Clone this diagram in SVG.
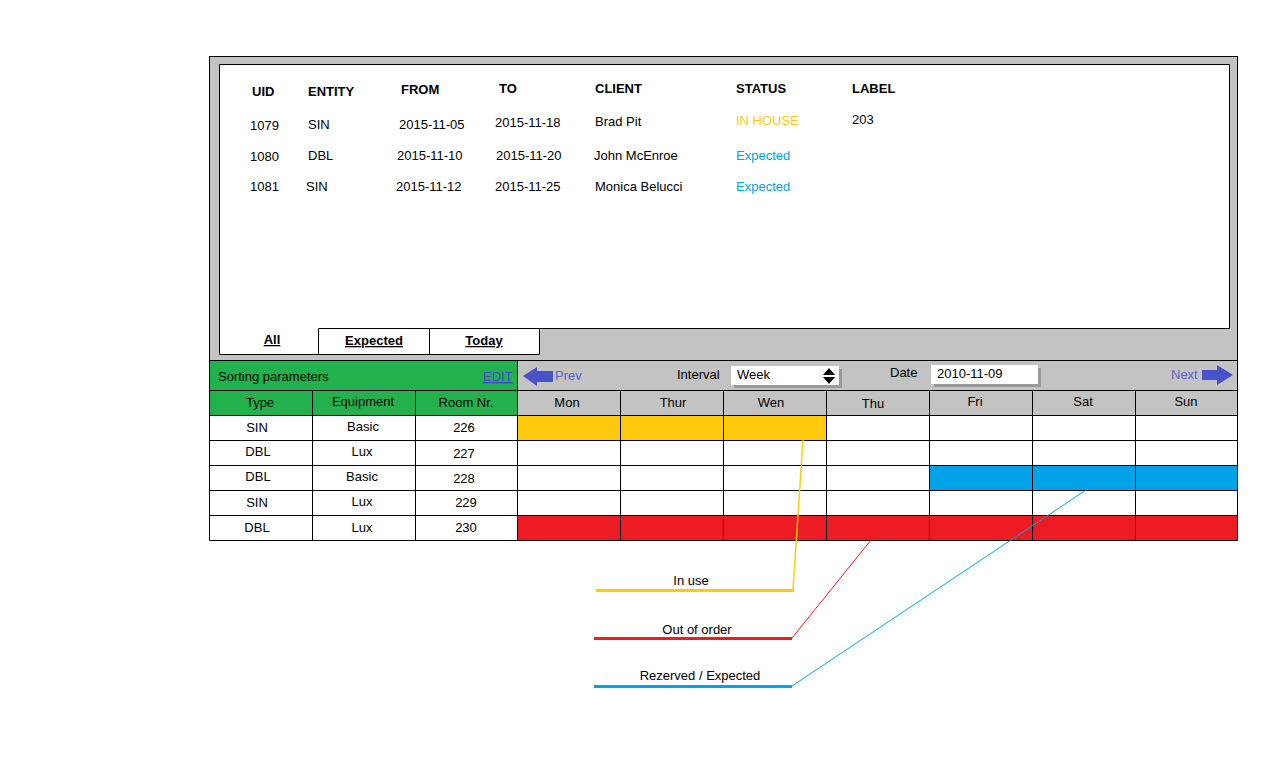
<svg xmlns="http://www.w3.org/2000/svg" width="1273" height="764" viewBox="0 0 1273 764">
<style>
text{font-family:"Liberation Sans",Arial,sans-serif;font-size:13px;fill:#000}
.b{font-weight:bold}
.c{text-anchor:middle}
.u{text-decoration:underline}
.ln{stroke:#000;stroke-width:1;fill:none}
.gray{fill:#c3c3c3}
.yel{fill:#ffc90e}
.red{fill:#ed1c24}
.blu{fill:#00a2e8}
.grn{fill:#22b14c}
.wh{fill:#fff}
.st1{fill:#ffc90e}
.st2{fill:#00a2e8}
.nav{fill:#4a52c8}
</style>
<rect width="1273" height="764" fill="#fff"/>

<g id="frame">
  <rect x="209.5" y="56.5" width="1028" height="304" class="gray" stroke="#000"/>
  <rect x="219.5" y="64.5" width="1010" height="264" class="wh"/>
  <rect x="219.5" y="328" width="320" height="26.5" class="wh"/>
  <path class="ln" d="M219.5 64.5H1229.5V328.5H318.5M219.5 64.5V354.5H539.5V328.5M318.5 328.5V354.5M429.5 328.5V354.5"/>
</g>

<g id="list-table">
  <text x="252" y="96" class="b">UID</text>
  <text x="308" y="96" class="b">ENTITY</text>
  <text x="401" y="94" class="b">FROM</text>
  <text x="499" y="93" class="b">TO</text>
  <text x="595" y="93" class="b">CLIENT</text>
  <text x="736" y="93" class="b">STATUS</text>
  <text x="852" y="93" class="b">LABEL</text>

  <text x="250" y="130">1079</text>
  <text x="308" y="129">SIN</text>
  <text x="399" y="129">2015-11-05</text>
  <text x="495" y="127">2015-11-18</text>
  <text x="595" y="126">Brad Pit</text>
  <text x="736" y="125" class="st1">IN HOUSE</text>
  <text x="852" y="124">203</text>

  <text x="250" y="161">1080</text>
  <text x="308" y="160">DBL</text>
  <text x="397" y="160">2015-11-10</text>
  <text x="496" y="160">2015-11-20</text>
  <text x="594" y="160">John McEnroe</text>
  <text x="736" y="160" class="st2">Expected</text>

  <text x="250" y="191">1081</text>
  <text x="306" y="191">SIN</text>
  <text x="396" y="191">2015-11-12</text>
  <text x="495" y="191">2015-11-25</text>
  <text x="595" y="191">Monica Belucci</text>
  <text x="736" y="191" class="st2">Expected</text>
</g>

<g id="tabs">
  <text x="272" y="344" class="b c u">All</text>
  <text x="374" y="345" class="b c u">Expected</text>
  <text x="484" y="345" class="b c u">Today</text>
</g>

<g id="toolbar">
  <rect x="209.5" y="360.5" width="1028" height="30" class="gray" stroke="#000"/>
  <rect x="209.5" y="360.5" width="308" height="30" class="grn" stroke="#000"/>
  <text x="218" y="381">Sorting parameters</text>
  <text x="483" y="381" class="u" style="fill:#3f48cc">EDIT</text>
  <path class="nav" d="M523 376L537 367V371H553V382H537V386Z"/>
  <text x="555" y="380" style="fill:#5a62cc">Prev</text>
  <text x="677" y="379">Interval</text>
  <rect x="734" y="369" width="108" height="19" fill="#9a9a9a"/>
  <rect x="731" y="366" width="108" height="19" class="wh"/>
  <text x="737" y="379">Week</text>
  <path d="M823 375L829 368L835 375ZM823 377L829 384L835 377Z" fill="#000"/>
  <text x="890" y="377">Date</text>
  <rect x="934" y="368" width="107" height="19" fill="#9a9a9a"/>
  <rect x="931" y="365" width="107" height="19" class="wh"/>
  <text x="937" y="378">2010-11-09</text>
  <text x="1171" y="379" style="fill:#5a62cc">Next</text>
  <path class="nav" d="M1202 370H1217V365L1233 375L1217 385V380H1202Z"/>
</g>

<g id="grid">
  <rect x="209.5" y="390.5" width="308" height="25" class="grn"/>
  <rect x="517.5" y="390.5" width="720" height="25" class="gray"/>
  <rect x="209.5" y="415.5" width="1028" height="125" class="wh"/>
  <rect x="517.5" y="415.5" width="309" height="25" class="yel"/>
  <rect x="929.5" y="465.5" width="308" height="25" class="blu"/>
  <rect x="517.5" y="515.5" width="720" height="25" class="red"/>
  <path class="ln" d="M209.5 390.5H1237.5M209.5 415.5H1237.5M209.5 440.5H1237.5M209.5 465.5H1237.5M209.5 490.5H1237.5M209.5 515.5H1237.5M209.5 540.5H1237.5M209.5 390.5V540.5M312.5 390.5V540.5M415.5 390.5V540.5M517.5 390.5V540.5M620.5 390.5V540.5M723.5 390.5V540.5M826.5 390.5V540.5M929.5 390.5V540.5M1032.5 390.5V540.5M1135.5 390.5V540.5M1237.5 390.5V540.5"/>
  <text x="260" y="407" class="c">Type</text>
  <text x="363" y="406" class="c">Equipment</text>
  <text x="466" y="407" class="c">Room Nr.</text>
  <text x="567" y="407" class="c">Mon</text>
  <text x="673" y="407" class="c">Thur</text>
  <text x="771" y="407" class="c">Wen</text>
  <text x="873" y="408" class="c">Thu</text>
  <text x="975" y="406" class="c">Fri</text>
  <text x="1083" y="406" class="c">Sat</text>
  <text x="1186" y="406" class="c">Sun</text>

  <text x="257" y="432" class="c">SIN</text>
  <text x="363" y="431" class="c">Basic</text>
  <text x="464" y="432" class="c">226</text>
  <text x="258" y="456" class="c">DBL</text>
  <text x="362" y="456" class="c">Lux</text>
  <text x="464" y="458" class="c">227</text>
  <text x="258" y="481" class="c">DBL</text>
  <text x="362" y="481" class="c">Basic</text>
  <text x="464" y="483" class="c">228</text>
  <text x="257" y="507" class="c">SIN</text>
  <text x="362" y="506" class="c">Lux</text>
  <text x="466" y="507" class="c">229</text>
  <text x="257" y="532" class="c">DBL</text>
  <text x="362" y="532" class="c">Lux</text>
  <text x="466" y="532" class="c">230</text>
</g>

<g id="connectors">
  <path d="M793 590L803 440" stroke="#ffc90e" stroke-width="1.5" fill="none"/>
  <path d="M792 638L871 540" stroke="#ed1c24" stroke-width="1" fill="none"/>
  <path d="M792 686L1086 490" stroke="#00a2e8" stroke-width="1" fill="none"/>
</g>

<g id="legend-inuse">
  <path d="M596 590.5H794" stroke="#ffc90e" stroke-width="3"/>
  <text x="691" y="585" class="c">In use</text>
</g>
<g id="legend-outoforder">
  <path d="M594 638.5H792" stroke="#ed1c24" stroke-width="3"/>
  <text x="697" y="634" class="c">Out of order</text>
</g>
<g id="legend-reserved">
  <path d="M594 686.5H792" stroke="#00a2e8" stroke-width="3"/>
  <text x="700" y="680" class="c">Rezerved / Expected</text>
</g>
</svg>
